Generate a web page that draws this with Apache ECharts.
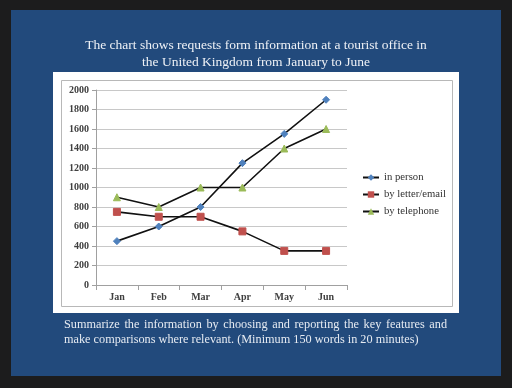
<!DOCTYPE html>
<html><head><meta charset="utf-8">
<script src="https://cdn.jsdelivr.net/npm/echarts@6/dist/echarts.min.js"></script>
<style>html,body{margin:0;padding:0;background:#1c1c1d;}#c{width:512px;height:388px;}</style>
</head><body><div id="c"></div>
<script>
const months = ['Jan','Feb','Mar','Apr','May','Jun'];
const inPerson = [450, 600, 800, 1250, 1550, 1900];
const byLetter = [750, 700, 700, 550, 350, 350];
const byPhone = [900, 800, 1000, 1000, 1400, 1600];
const seriesNames = ['in person','by letter/email','by telephone'];
const yTicks = {min:0, max:2000, interval:200};
const noteLine1 = 'Summarize the information by choosing and reporting the key features and';
const noteLine2 = 'make comparisons where relevant. (Minimum 150 words in 20 minutes)';

const chart = echarts.init(document.getElementById('c'), null, {renderer:'canvas'});
const serif = '"Liberation Serif", "DejaVu Serif", serif';
const noteFont = '12.25px ' + serif;

// justify first note line across 64..447
const ctx = document.createElement('canvas').getContext('2d');
ctx.font = noteFont;
const words = noteLine1.split(' ');
const widths = words.map(w => ctx.measureText(w).width);
const totalW = widths.reduce((a,b)=>a+b,0);
const gap = (447 - 64 - totalW) / (words.length - 1);
const noteGraphics = [];
let xx = 64;
words.forEach((w,i) => {
  noteGraphics.push({type:'text', x:xx, y:319, style:{text:w, fill:'#e6ebf2', font:noteFont}, z:5, silent:true});
  xx += widths[i] + gap;
});
noteGraphics.push({type:'text', x:64, y:334, style:{text:noteLine2, fill:'#e6ebf2', font:noteFont}, z:5, silent:true});

const mk = (name, data, sym, size, color) => ({
  name, type:'line', data, symbol:sym, symbolSize:size,
  lineStyle:{color:'#111', width:1.6},
  itemStyle:{color:color, borderColor:color},
  emphasis:{disabled:true}, z:3
});
chart.setOption({
  backgroundColor:'#1c1c1d',
  animation:false,
  graphic:[
    {type:'rect', shape:{x:11,y:10,width:490,height:366}, style:{fill:'#224a7c'}, z:-10, silent:true},
    {type:'rect', shape:{x:53,y:72,width:406,height:241}, style:{fill:'#ffffff'}, z:-9, silent:true},
    {type:'rect', shape:{x:61.5,y:80.5,width:391,height:226}, style:{fill:'#ffffff', stroke:'#b8b8b8', lineWidth:1}, z:-8, silent:true}
  ].concat(noteGraphics),
  title:{
    text:'The chart shows requests form information at a tourist office in\nthe United Kingdom from January to June',
    left:'center', top:32,
    textStyle:{color:'#eef1f6', fontFamily:serif, fontSize:13.5, fontWeight:'normal', lineHeight:17}
  },
  legend:{
    orient:'vertical', left:357, top:167, itemWidth:16, itemHeight:8, itemGap:6,
    textStyle:{fontFamily:serif, fontSize:10.7, color:'#333'},
    data:seriesNames
  },
  grid:{left:96, right:165, top:90, bottom:103},
  xAxis:{
    type:'category', data:months, boundaryGap:true,
    axisLine:{lineStyle:{color:'#a0a0a0'}},
    axisTick:{show:true, alignWithLabel:false, lineStyle:{color:'#a0a0a0'}},
    axisLabel:{fontFamily:serif, fontSize:10, color:'#404040', fontWeight:'bold', margin:7}
  },
  yAxis:{
    type:'value', min:yTicks.min, max:yTicks.max, interval:yTicks.interval,
    axisLine:{show:true, lineStyle:{color:'#a0a0a0'}},
    axisTick:{show:true, length:4, lineStyle:{color:'#a0a0a0'}},
    splitLine:{lineStyle:{color:'#c8c8c8'}},
    axisLabel:{fontFamily:serif, fontSize:10, color:'#404040', fontWeight:'bold', margin:7, formatter:v=>String(v)}
  },
  series:[
    mk(seriesNames[0], inPerson, 'diamond', 7, '#4f81bd'),
    mk(seriesNames[1], byLetter, 'rect', 7, '#c0504d'),
    mk(seriesNames[2], byPhone, 'triangle', 7, '#9bbb59')
  ]
});
</script></body></html>
